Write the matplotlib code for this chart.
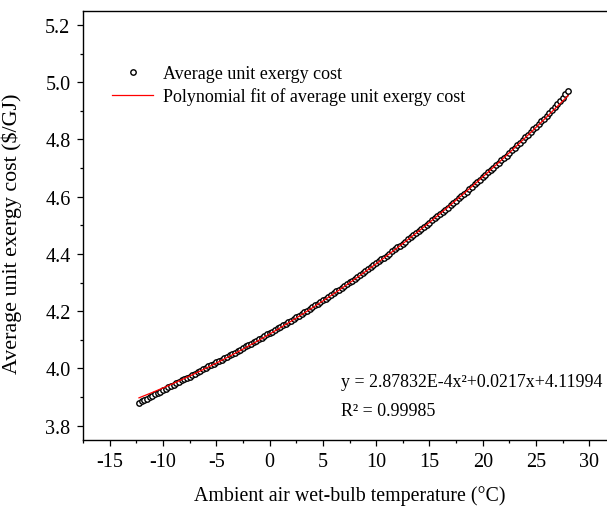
""" unit exergy cost against ambient wet-bulb temperature, with the quadratic fit """
import matplotlib
matplotlib.use("Agg")
import matplotlib.pyplot as plt
import numpy as np
from matplotlib.ticker import MultipleLocator, FormatStrFormatter

# ambient air wet-bulb temperature (C)
temperature = [
    -12.25, -12.0, -11.75, -11.5, -11.25, -11.0, -10.75, -10.5, -10.25, -10.0,
    -9.75, -9.5, -9.25, -9.0, -8.75, -8.5, -8.25, -8.0, -7.75, -7.5,
    -7.25, -7.0, -6.75, -6.5, -6.25, -6.0, -5.75, -5.5, -5.25, -5.0,
    -4.75, -4.5, -4.25, -4.0, -3.75, -3.5, -3.25, -3.0, -2.75, -2.5,
    -2.25, -2.0, -1.75, -1.5, -1.25, -1.0, -0.75, -0.5, -0.25, 0.0,
    0.25, 0.5, 0.75, 1.0, 1.25, 1.5, 1.75, 2.0, 2.25, 2.5,
    2.75, 3.0, 3.25, 3.5, 3.75, 4.0, 4.25, 4.5, 4.75, 5.0,
    5.25, 5.5, 5.75, 6.0, 6.25, 6.5, 6.75, 7.0, 7.25, 7.5,
    7.75, 8.0, 8.25, 8.5, 8.75, 9.0, 9.25, 9.5, 9.75, 10.0,
    10.25, 10.5, 10.75, 11.0, 11.25, 11.5, 11.75, 12.0, 12.25, 12.5,
    12.75, 13.0, 13.25, 13.5, 13.75, 14.0, 14.25, 14.5, 14.75, 15.0,
    15.25, 15.5, 15.75, 16.0, 16.25, 16.5, 16.75, 17.0, 17.25, 17.5,
    17.75, 18.0, 18.25, 18.5, 18.75, 19.0, 19.25, 19.5, 19.75, 20.0,
    20.25, 20.5, 20.75, 21.0, 21.25, 21.5, 21.75, 22.0, 22.25, 22.5,
    22.75, 23.0, 23.25, 23.5, 23.75, 24.0, 24.25, 24.5, 24.75, 25.0,
    25.25, 25.5, 25.75, 26.0, 26.25, 26.5, 26.75, 27.0, 27.25, 27.5,
    27.75, 28.0,
]

# average unit exergy cost ($/GJ)
unit_cost = [
    3.881, 3.886, 3.891, 3.895, 3.900, 3.905, 3.910, 3.915, 3.919, 3.924,
    3.929, 3.934, 3.938, 3.943, 3.948, 3.952, 3.958, 3.962, 3.967, 3.971,
    3.977, 3.981, 3.987, 3.991, 3.997, 4.001, 4.007, 4.011, 4.016, 4.021,
    4.026, 4.031, 4.036, 4.041, 4.046, 4.051, 4.055, 4.060, 4.066, 4.071,
    4.077, 4.082, 4.087, 4.092, 4.097, 4.103, 4.108, 4.113, 4.119, 4.124,
    4.129, 4.135, 4.140, 4.146, 4.151, 4.156, 4.162, 4.167, 4.173, 4.179,
    4.185, 4.191, 4.197, 4.202, 4.208, 4.214, 4.220, 4.226, 4.233, 4.239,
    4.244, 4.250, 4.256, 4.263, 4.269, 4.275, 4.282, 4.288, 4.294, 4.301,
    4.307, 4.314, 4.321, 4.327, 4.334, 4.341, 4.346, 4.353, 4.360, 4.367,
    4.374, 4.381, 4.387, 4.394, 4.401, 4.409, 4.416, 4.423, 4.429, 4.436,
    4.443, 4.451, 4.458, 4.465, 4.473, 4.480, 4.487, 4.494, 4.502, 4.509,
    4.517, 4.524, 4.532, 4.539, 4.547, 4.554, 4.562, 4.570, 4.578, 4.586,
    4.594, 4.602, 4.610, 4.618, 4.626, 4.634, 4.643, 4.652, 4.660, 4.668,
    4.676, 4.685, 4.693, 4.702, 4.710, 4.719, 4.727, 4.736, 4.744, 4.753,
    4.763, 4.771, 4.780, 4.789, 4.799, 4.808, 4.816, 4.826, 4.835, 4.844,
    4.854, 4.863, 4.873, 4.883, 4.893, 4.903, 4.913, 4.924, 4.935, 4.946,
    4.958, 4.969,
]

# quadratic fit coefficients (a*x^2 + b*x + c) and R^2
fit_coeffs = [2.87832E-4, 0.0217, 4.11994]
r_squared = 0.99985

plt.rcParams["font.family"] = ["Liberation Serif", "DejaVu Serif"]
plt.rcParams["axes.unicode_minus"] = False

fig = plt.figure(figsize=(6.07, 5.10), dpi=100)
ax = fig.add_axes([83 / 607, 69 / 510, 533 / 607, 429.3 / 510])

x_fit = np.linspace(min(temperature), max(temperature), 300)
y_fit = np.polyval(fit_coeffs, x_fit)

ax.plot(temperature, unit_cost, linestyle="none", marker="o", markersize=3.9,
        markerfacecolor="white", markeredgecolor="black", markeredgewidth=1.0,
        label="Average unit exergy cost", zorder=2)
ax.plot(x_fit, y_fit, color="red", linewidth=0.9,
        label="Polynomial fit of average unit exergy cost", zorder=3)

ax.set_xlim(-17.5, 32.5)
ax.set_ylim(3.75, 5.25)
ax.xaxis.set_major_locator(MultipleLocator(5))
ax.xaxis.set_minor_locator(MultipleLocator(2.5))
ax.yaxis.set_major_locator(MultipleLocator(0.2))
ax.yaxis.set_minor_locator(MultipleLocator(0.1))
ax.yaxis.set_major_formatter(FormatStrFormatter("%.1f"))
ax.tick_params(which="both", direction="out", top=False, right=False,
               width=0.9, labelsize=14.5, pad=5)
ax.tick_params(which="major", length=4)
ax.tick_params(which="minor", length=2.3)
for side in ["left", "bottom", "top"]:
    ax.spines[side].set_linewidth(1.0)
ax.spines["right"].set_visible(False)

ax.set_xlabel("Ambient air wet-bulb temperature (\u00b0C)", fontsize=14.3, labelpad=10)
ax.set_ylabel("Average unit exergy cost ($/GJ)", fontsize=15.8)
ax.yaxis.set_label_coords(22 / 607, 1 - 234 / 510, transform=fig.transFigure)

ax.legend(loc="upper left", bbox_to_anchor=(0.054, 0.873), frameon=False,
          numpoints=1, fontsize=13.0, handlelength=2.3, handletextpad=0.55,
          labelspacing=0.27, borderpad=0, borderaxespad=0)

eq_text = "y = %sx\u00b2+%sx+%s" % ("2.87832E-4", fit_coeffs[1], fit_coeffs[2])
fig.text(341 / 607, 1 - 383 / 510, eq_text, fontsize=12.9, va="center", ha="left")
fig.text(341 / 607, 1 - 412 / 510, "R\u00b2 = %s" % r_squared,
         fontsize=12.9, va="center", ha="left")

fig.savefig("out.png", dpi=100)
